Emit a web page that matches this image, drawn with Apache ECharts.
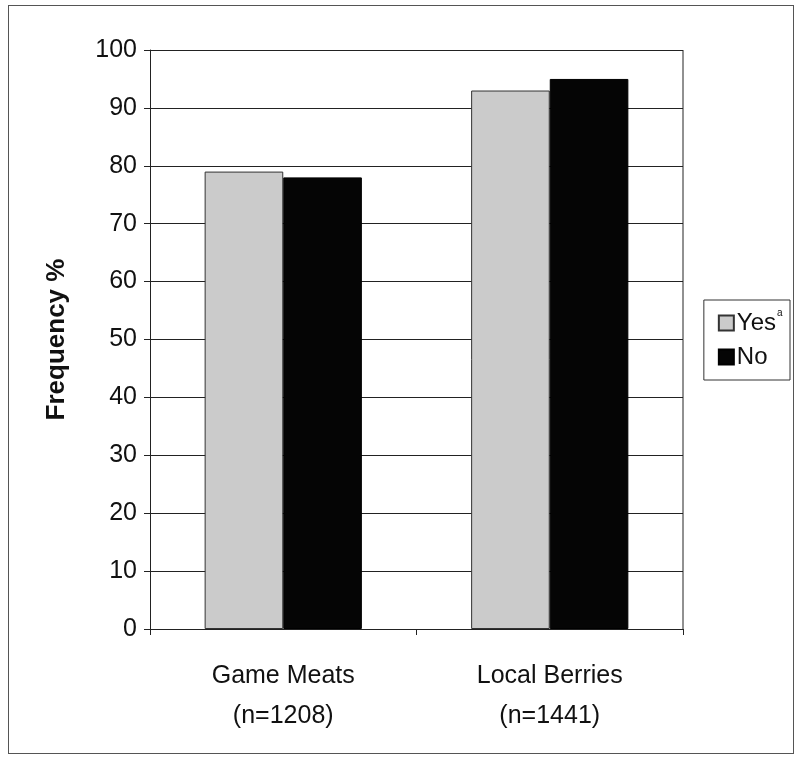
<!DOCTYPE html>
<html>
<head>
<meta charset="utf-8">
<script src="https://cdn.jsdelivr.net/npm/echarts@6/dist/echarts.min.js"></script>
<style>
html,body{margin:0;padding:0;background:#fff;}
#frame{position:absolute;left:8px;top:5px;width:786px;height:749px;border:1px solid #555;box-sizing:border-box;}
#chart{width:796px;height:758px;}
</style>
</head>
<body>
<div id="frame"></div>
<div id="chart"></div>
<script>
const categories = ['Game Meats\n(n=1208)', 'Local Berries\n(n=1441)']
const yesValues = [79, 93]
const noValues = [78, 95]
const seriesNames = ['Yes', 'No']
const yTicks = [0, 10, 20, 30, 40, 50, 60, 70, 80, 90, 100]

const myChart = echarts.init(document.getElementById('chart'))
const font = 'Liberation Sans, Arial, sans-serif'

let option = {
    animation: false,
    grid: {
        left: 150,
        right: 113,
        top: 50,
        bottom: 129
    },
    legend: {
        orient: 'vertical',
        right: 6,
        top: 300,
        icon: 'rect',
        itemWidth: 15,
        itemHeight: 15,
        itemGap: 10,
        padding: [11, 14, 11, 14],
        borderColor: '#333',
        borderWidth: 1,
        textStyle: { fontFamily: font, fontSize: 24, color: '#111', padding: [0, 0, 0, -2] },
        data: seriesNames
    },
    xAxis: {
        type: 'category',
        data: categories,
        axisLine: { lineStyle: { color: '#222', width: 1 } },
        axisTick: { show: true, length: 6, lineStyle: { color: '#222' } },
        axisLabel: {
            fontFamily: font, fontSize: 25, color: '#111',
            margin: 27, lineHeight: 40
        }
    },
    yAxis: {
        type: 'value',
        min: yTicks[0],
        max: yTicks[yTicks.length - 1],
        interval: 10,
        name: 'Frequency %',
        nameLocation: 'middle',
        nameGap: 80,
        nameTextStyle: { fontFamily: font, fontSize: 26, fontWeight: 'bold', color: '#111' },
        axisLine: { show: true, lineStyle: { color: '#222' } },
        axisTick: { show: true, length: 6, lineStyle: { color: '#222' } },
        axisLabel: { fontFamily: font, fontSize: 25, color: '#111', margin: 13 },
        splitLine: { show: true, lineStyle: { color: '#222', width: 1.2 } }
    },
    series: [
        {
            name: seriesNames[0],
            type: 'bar',
            data: yesValues,
            barGap: '0%',
            barCategoryGap: '41%',
            itemStyle: { color: '#cbcbcb', borderColor: '#333', borderWidth: 1 }
        },
        {
            name: seriesNames[1],
            type: 'bar',
            data: noValues,
            itemStyle: { color: '#050505', borderColor: '#000', borderWidth: 1 }
        }
    ],
    graphic: [
        {
            type: 'line',
            shape: { x1: 683, y1: 50, x2: 683, y2: 629 },
            style: { stroke: '#222', lineWidth: 1 }
        },
        {
            type: 'text',
            left: 777, top: 308,
            style: { text: 'a', fontSize: 10, fontFamily: font, fill: '#111' }
        }
    ]
}
option && myChart.setOption(option)
</script>
</body>
</html>
